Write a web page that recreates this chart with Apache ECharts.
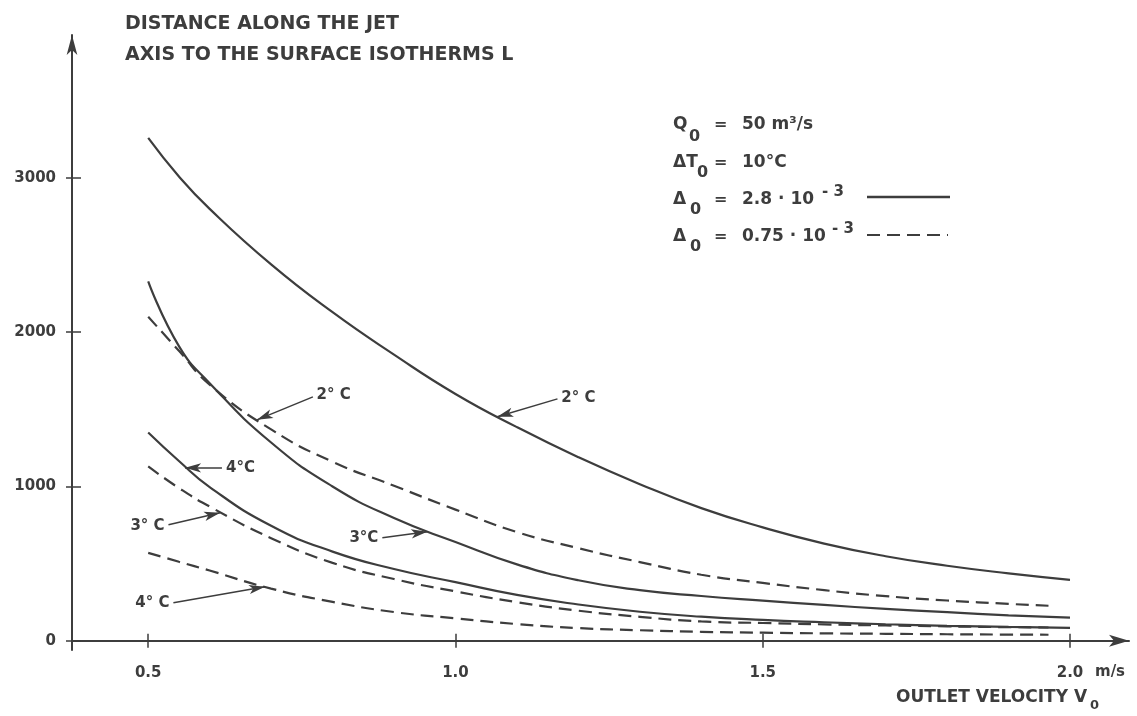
<!DOCTYPE html>
<html>
<head>
<meta charset="utf-8">
<script src="https://cdn.jsdelivr.net/npm/echarts@6/dist/echarts.min.js"></script>
<style>
html, body { margin: 0; background: #fff; }
#chart { width: 1137px; height: 716px; }
</style>
</head>
<body>
<div id="chart"></div>
<script>
// outlet velocity (m/s)
var velocity = [0.5, 0.55, 0.6, 0.7, 0.8, 0.9, 1.0, 1.1, 1.2, 1.3, 1.4, 1.5, 1.6, 1.7, 1.8, 1.9, 2.0];
var velocityDashed = [0.5, 0.55, 0.6, 0.7, 0.8, 0.9, 1.0, 1.1, 1.2, 1.3, 1.4, 1.5, 1.6, 1.7, 1.8, 1.9, 1.965];

// distance L, delta0 = 2.8e-3 (solid)
var solid2C = [3260, 3010, 2800, 2440, 2130, 1855, 1600, 1385, 1190, 1015, 860, 735, 630, 548, 486, 437, 395];
var solid3C = [2330, 1910, 1670, 1285, 1000, 795, 640, 495, 392, 328, 290, 260, 232, 207, 185, 165, 150];
var solid4C = [1350, 1165, 996, 745, 578, 465, 380, 297, 235, 188, 156, 135, 120, 107, 97, 90, 84];

// distance L, delta0 = 0.75e-3 (dashed)
var dashed2C = [2100, 1880, 1660, 1370, 1160, 1005, 850, 705, 600, 510, 428, 375, 328, 289, 261, 239, 227];
var dashed3C = [1130, 990, 870, 665, 505, 400, 320, 250, 195, 155, 125, 115, 106, 99, 93, 88, 86];
var dashed4C = [570, 512, 455, 338, 252, 186, 145, 108, 82, 68, 58, 52, 48, 45, 42, 40, 39];

var xTicks = [0.5, 1.0, 1.5, 2.0];
var yTicks = [0, 1000, 2000, 3000];

// curve labels: [text, from (label end), to (arrow tip on curve)]
var pointerSolid2 = ['2° C', [1.166, 1568], [1.068, 1452]];
var pointerSolid3 = ['3°C', [0.881, 668], [0.954, 706]];
var pointerSolid4 = ['4°C', [0.620, 1121], [0.560, 1121]];
var pointerDashed2 = ['2° C', [0.768, 1581], [0.677, 1432]];
var pointerDashed3 = ['3° C', [0.533, 752], [0.617, 830]];
var pointerDashed4 = ['4° C', [0.541, 246], [0.690, 350]];

var ink = '#3d3d3d';
var fontFamily = '"DejaVu Sans"';

function pairs(xs, ys) {
    return ys.map(function (y, i) { return [xs[i], y]; });
}

function pointer(p) {
    return {
        silent: true,
        symbol: ['none', 'arrow'],
        symbolSize: [0, 12],
        lineStyle: { type: 'solid', width: 1.5, color: ink },
        label: {
            show: true, position: 'start', formatter: '{b}', distance: 4,
            color: ink, fontSize: 15, fontWeight: 'bold', fontFamily: fontFamily
        },
        data: [[{ name: p[0], coord: p[1] }, { coord: p[2], symbolSize: [7, 16] }]]
    };
}

function curve(xs, ys, dashed, p) {
    return {
        type: 'line',
        data: pairs(xs, ys),
        smooth: true,
        showSymbol: false,
        lineStyle: { color: ink, width: 2.2, type: dashed ? [13, 7] : 'solid' },
        markLine: pointer(p)
    };
}

function txt(x, y, text, size) {
    return {
        type: 'text', x: x, y: y, silent: true,
        style: {
            text: text, fill: ink, align: 'left', verticalAlign: 'middle',
            font: 'bold ' + size + 'px ' + fontFamily
        }
    };
}

var chart = echarts.init(document.getElementById('chart'));

var option = {
    animation: false,
    grid: { left: 72, right: 8, top: 35, bottom: 66 },
    xAxis: [
        {
            type: 'value', position: 'bottom', min: 0.376, max: 2.096,
            axisLine: { show: true, onZero: true, symbol: ['none', 'arrow'], symbolSize: [9, 20],
                lineStyle: { color: ink, width: 2 } },
            axisTick: { show: true, inside: true, length: 7, customValues: xTicks,
                lineStyle: { color: ink, width: 1.5 } },
            axisLabel: { customValues: xTicks, margin: 16, color: ink, fontSize: 15, fontWeight: 'bold',
                fontFamily: fontFamily, formatter: function (v) { return v.toFixed(1); } },
            splitLine: { show: false }
        },
        {
            type: 'value', position: 'bottom', min: 0.376, max: 2.096,
            axisLine: { show: false, onZero: true },
            axisTick: { show: true, length: 7, customValues: xTicks, lineStyle: { color: ink, width: 1.5 } },
            axisLabel: { show: false },
            splitLine: { show: false }
        }
    ],
    yAxis: [
        {
            type: 'value', position: 'left', min: -60, max: 3927,
            axisLine: { show: true, symbol: ['none', 'arrow'], symbolSize: [8, 20],
                lineStyle: { color: ink, width: 2 } },
            axisTick: { show: true, inside: true, length: 9, customValues: yTicks,
                lineStyle: { color: ink, width: 1.5 } },
            axisLabel: { customValues: yTicks, margin: 16, color: ink, fontSize: 15, fontWeight: 'bold',
                fontFamily: fontFamily, formatter: function (v) { return String(v); } },
            splitLine: { show: false }
        },
        {
            type: 'value', position: 'left', min: -60, max: 3927,
            axisLine: { show: false },
            axisTick: { show: true, length: 6, customValues: yTicks, lineStyle: { color: ink, width: 1.5 } },
            axisLabel: { show: false },
            splitLine: { show: false }
        }
    ],
    series: [
        curve(velocity, solid2C, false, pointerSolid2),
        curve(velocity, solid3C, false, pointerSolid3),
        curve(velocity, solid4C, false, pointerSolid4),
        curve(velocityDashed, dashed2C, true, pointerDashed2),
        curve(velocityDashed, dashed3C, true, pointerDashed3),
        curve(velocityDashed, dashed4C, true, pointerDashed4)
    ],
    graphic: [
        // y axis title
        txt(125, 24, 'DISTANCE ALONG THE JET', 19),
        txt(125, 55, 'AXIS TO THE SURFACE ISOTHERMS L', 19),
        // parameter block
        txt(673, 125, 'Q', 17), txt(689, 137, '0', 16), txt(714, 125, '=', 16), txt(742, 125, '50 m³/s', 17),
        txt(673, 163, 'ΔT', 17), txt(697, 173, '0', 16), txt(714, 163, '=', 16), txt(742, 163, '10°C', 17),
        txt(673, 200, 'Δ', 17), txt(690, 210, '0', 16), txt(714, 200, '=', 16), txt(742, 200, '2.8 · 10', 17),
        txt(822, 192, '- 3', 15),
        txt(673, 237, 'Δ', 17), txt(690, 247, '0', 16), txt(714, 237, '=', 16), txt(742, 237, '0.75 · 10', 17),
        txt(832, 229, '- 3', 15),
        {
            type: 'line', silent: true,
            shape: { x1: 867, y1: 197, x2: 950, y2: 197 },
            style: { stroke: ink, lineWidth: 2.5 }
        },
        {
            type: 'line', silent: true,
            shape: { x1: 867, y1: 235, x2: 948, y2: 235 },
            style: { stroke: ink, lineWidth: 2.2, lineDash: [13, 7] }
        },
        // x axis title and unit
        txt(1095, 672, 'm/s', 15),
        txt(896, 698, 'OUTLET VELOCITY V', 17),
        txt(1090, 706, '0', 13)
    ]
};

chart.setOption(option);
</script>
</body>
</html>
